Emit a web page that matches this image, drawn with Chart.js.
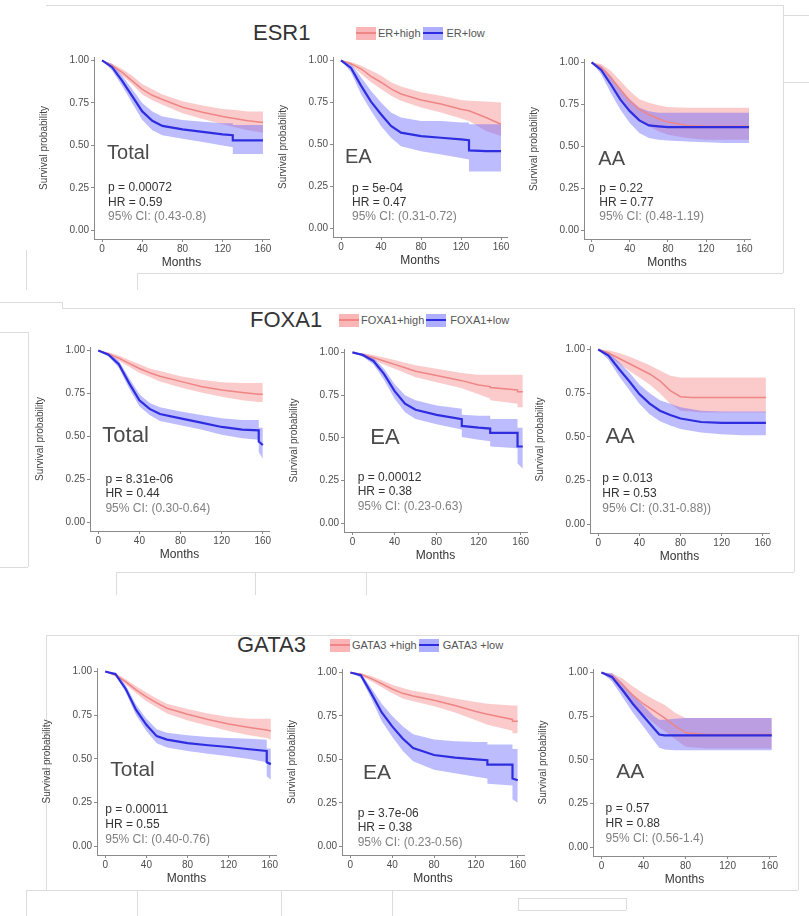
<!DOCTYPE html>
<html>
<head>
<meta charset="utf-8">
<script src="https://cdn.jsdelivr.net/npm/chart.js@4.4.0/dist/chart.umd.min.js"></script>
<style>
  body { margin: 0; background: #fff; width: 809px; height: 916px; position: relative; overflow: hidden;
         font-family: "Liberation Sans", Arial, sans-serif; }
  canvas { position: absolute; }
  .title { position: absolute; font-size: 22px; color: #333; line-height: 22px; white-space: nowrap; }
  .leg { position: absolute; font-size: 11px; color: #555; display: flex; align-items: center; height: 14px; white-space: nowrap; }
  .sw { display: inline-block; width: 20px; height: 13px; position: relative; }
  .sw i { position: absolute; left: 0; right: 0; top: 5px; height: 2px; }
  .ln { position: absolute; background: #dcdcdc; }
</style>
</head>
<body>

<script>
// ---- data ----
const xTicks = [0, 40, 80, 120, 160]
const yTicks = [0, 0.25, 0.5, 0.75, 1]
const yTickLabels = ["0.00", "0.25", "0.50", "0.75", "1.00"]

// ESR1 - Total
const esr1TotalT = [0, 10, 20, 30, 40, 50, 60, 80, 100, 120, 130, 130, 145, 160]
const esr1TotalHigh = [1.0, 0.97, 0.93, 0.88, 0.83, 0.795, 0.77, 0.725, 0.695, 0.67, 0.66, 0.66, 0.645, 0.635]
const esr1TotalHighLo = [1.0, 0.96, 0.91, 0.86, 0.80, 0.765, 0.74, 0.69, 0.655, 0.625, 0.61, 0.61, 0.59, 0.575]
const esr1TotalHighHi = [1.0, 0.98, 0.95, 0.91, 0.86, 0.83, 0.80, 0.76, 0.735, 0.715, 0.71, 0.71, 0.70, 0.70]
const esr1TotalLow = [1.0, 0.96, 0.88, 0.79, 0.70, 0.645, 0.615, 0.595, 0.58, 0.565, 0.56, 0.53, 0.53, 0.53]
const esr1TotalLowLo = [1.0, 0.94, 0.85, 0.75, 0.65, 0.59, 0.56, 0.54, 0.52, 0.50, 0.49, 0.45, 0.45, 0.45]
const esr1TotalLowHi = [1.0, 0.98, 0.91, 0.83, 0.75, 0.70, 0.67, 0.65, 0.64, 0.63, 0.63, 0.62, 0.62, 0.62]

// ESR1 - EA
const esr1EaT = [0, 10, 20, 30, 40, 50, 60, 80, 100, 120, 128, 128, 145, 160]
const esr1EaHigh = [1.0, 0.98, 0.95, 0.905, 0.87, 0.83, 0.80, 0.765, 0.74, 0.71, 0.70, 0.70, 0.66, 0.62]
const esr1EaHighLo = [1.0, 0.97, 0.92, 0.87, 0.83, 0.79, 0.76, 0.72, 0.69, 0.655, 0.64, 0.64, 0.58, 0.55]
const esr1EaHighHi = [1.0, 0.99, 0.97, 0.94, 0.91, 0.87, 0.845, 0.81, 0.79, 0.765, 0.76, 0.76, 0.755, 0.75]
const esr1EaLow = [1.0, 0.955, 0.85, 0.755, 0.68, 0.61, 0.57, 0.55, 0.54, 0.53, 0.525, 0.465, 0.46, 0.46]
const esr1EaLowLo = [1.0, 0.93, 0.80, 0.70, 0.61, 0.54, 0.49, 0.46, 0.44, 0.42, 0.41, 0.34, 0.34, 0.34]
const esr1EaLowHi = [1.0, 0.98, 0.90, 0.82, 0.75, 0.69, 0.66, 0.64, 0.64, 0.63, 0.63, 0.62, 0.62, 0.62]

// ESR1 - AA
const esr1AaT = [0, 10, 20, 30, 40, 50, 60, 70, 80, 100, 120, 140, 165]
const esr1AaHigh = [1.0, 0.97, 0.91, 0.84, 0.77, 0.72, 0.69, 0.665, 0.645, 0.625, 0.62, 0.62, 0.62]
const esr1AaHighLo = [1.0, 0.95, 0.87, 0.79, 0.72, 0.66, 0.62, 0.59, 0.57, 0.55, 0.54, 0.54, 0.54]
const esr1AaHighHi = [1.0, 0.99, 0.95, 0.89, 0.83, 0.78, 0.76, 0.745, 0.735, 0.73, 0.73, 0.73, 0.73]
const esr1AaLow = [1.0, 0.955, 0.87, 0.78, 0.71, 0.655, 0.625, 0.62, 0.615, 0.615, 0.615, 0.615, 0.615]
const esr1AaLowLo = [1.0, 0.93, 0.82, 0.72, 0.64, 0.58, 0.55, 0.54, 0.535, 0.53, 0.525, 0.52, 0.52]
const esr1AaLowHi = [1.0, 0.98, 0.92, 0.84, 0.78, 0.73, 0.71, 0.70, 0.70, 0.70, 0.70, 0.70, 0.70]

// FOXA1 - Total
const foxa1TotalT = [0, 10, 20, 30, 40, 50, 60, 80, 100, 120, 140, 156, 156, 160]
const foxa1TotalHigh = [1.0, 0.98, 0.955, 0.925, 0.895, 0.87, 0.85, 0.82, 0.79, 0.77, 0.755, 0.745, 0.745, 0.745]
const foxa1TotalHighLo = [1.0, 0.97, 0.94, 0.905, 0.87, 0.845, 0.82, 0.785, 0.755, 0.73, 0.71, 0.70, 0.70, 0.70]
const foxa1TotalHighHi = [1.0, 0.99, 0.97, 0.945, 0.92, 0.895, 0.88, 0.85, 0.83, 0.815, 0.81, 0.81, 0.81, 0.81]
const foxa1TotalLow = [1.0, 0.975, 0.92, 0.81, 0.71, 0.66, 0.63, 0.605, 0.58, 0.555, 0.54, 0.535, 0.47, 0.45]
const foxa1TotalLowLo = [1.0, 0.965, 0.90, 0.78, 0.675, 0.625, 0.59, 0.565, 0.54, 0.51, 0.49, 0.48, 0.41, 0.37]
const foxa1TotalLowHi = [1.0, 0.985, 0.94, 0.84, 0.745, 0.695, 0.67, 0.645, 0.625, 0.605, 0.595, 0.595, 0.55, 0.55]

// FOXA1 - EA
const foxa1EaT = [0, 10, 20, 30, 40, 50, 60, 80, 104, 104, 120, 131, 131, 157, 157, 162]
const foxa1EaHigh = [1.0, 0.985, 0.97, 0.95, 0.93, 0.91, 0.89, 0.865, 0.835, 0.835, 0.81, 0.80, 0.795, 0.78, 0.77, 0.77]
const foxa1EaHighLo = [1.0, 0.975, 0.955, 0.93, 0.905, 0.88, 0.855, 0.825, 0.79, 0.79, 0.755, 0.73, 0.72, 0.70, 0.68, 0.68]
const foxa1EaHighHi = [1.0, 0.995, 0.985, 0.97, 0.955, 0.94, 0.925, 0.905, 0.88, 0.88, 0.87, 0.87, 0.87, 0.87, 0.87, 0.87]
const foxa1EaLow = [1.0, 0.985, 0.95, 0.875, 0.775, 0.70, 0.665, 0.635, 0.61, 0.57, 0.56, 0.555, 0.53, 0.53, 0.45, 0.45]
const foxa1EaLowLo = [1.0, 0.975, 0.93, 0.84, 0.73, 0.65, 0.61, 0.58, 0.55, 0.505, 0.49, 0.48, 0.45, 0.44, 0.35, 0.32]
const foxa1EaLowHi = [1.0, 0.995, 0.97, 0.905, 0.815, 0.75, 0.72, 0.69, 0.67, 0.635, 0.63, 0.63, 0.61, 0.61, 0.56, 0.56]

// FOXA1 - AA
const foxa1AaT = [0, 10, 20, 30, 40, 50, 60, 70, 80, 90, 100, 120, 140, 163]
const foxa1AaHigh = [1.0, 0.98, 0.95, 0.92, 0.89, 0.86, 0.82, 0.765, 0.73, 0.725, 0.725, 0.725, 0.725, 0.725]
const foxa1AaHighLo = [1.0, 0.96, 0.92, 0.88, 0.84, 0.80, 0.75, 0.69, 0.65, 0.645, 0.64, 0.64, 0.64, 0.64]
const foxa1AaHighHi = [1.0, 0.995, 0.98, 0.96, 0.935, 0.91, 0.88, 0.85, 0.84, 0.84, 0.84, 0.84, 0.84, 0.84]
const foxa1AaLow = [1.0, 0.965, 0.89, 0.82, 0.745, 0.69, 0.65, 0.625, 0.605, 0.595, 0.585, 0.58, 0.58, 0.58]
const foxa1AaLowLo = [1.0, 0.94, 0.85, 0.77, 0.69, 0.63, 0.59, 0.565, 0.545, 0.535, 0.525, 0.515, 0.51, 0.51]
const foxa1AaLowHi = [1.0, 0.985, 0.93, 0.87, 0.80, 0.75, 0.71, 0.69, 0.67, 0.66, 0.65, 0.645, 0.645, 0.645]

// GATA3 - Total
const gata3TotalT = [0, 10, 20, 30, 40, 50, 60, 80, 100, 120, 140, 157, 157, 161]
const gata3TotalHigh = [1.0, 0.98, 0.94, 0.895, 0.855, 0.82, 0.79, 0.755, 0.725, 0.70, 0.68, 0.665, 0.665, 0.66]
const gata3TotalHighLo = [1.0, 0.97, 0.925, 0.875, 0.83, 0.795, 0.76, 0.72, 0.69, 0.66, 0.635, 0.62, 0.62, 0.61]
const gata3TotalHighHi = [1.0, 0.99, 0.955, 0.915, 0.88, 0.845, 0.815, 0.785, 0.76, 0.74, 0.73, 0.73, 0.73, 0.73]
const gata3TotalLow = [1.0, 0.985, 0.90, 0.78, 0.695, 0.63, 0.61, 0.59, 0.578, 0.568, 0.555, 0.545, 0.48, 0.47]
const gata3TotalLowLo = [1.0, 0.975, 0.88, 0.75, 0.66, 0.59, 0.565, 0.545, 0.53, 0.515, 0.50, 0.48, 0.40, 0.38]
const gata3TotalLowHi = [1.0, 0.995, 0.92, 0.81, 0.73, 0.67, 0.65, 0.635, 0.625, 0.62, 0.615, 0.61, 0.56, 0.56]

// GATA3 - EA
const gata3EaT = [0, 10, 20, 30, 40, 50, 60, 80, 100, 120, 131, 131, 155, 155, 160]
const gata3EaHigh = [1.0, 0.99, 0.965, 0.935, 0.905, 0.88, 0.865, 0.84, 0.81, 0.775, 0.76, 0.76, 0.73, 0.72, 0.72]
const gata3EaHighLo = [1.0, 0.98, 0.95, 0.915, 0.88, 0.85, 0.835, 0.805, 0.77, 0.725, 0.70, 0.70, 0.665, 0.65, 0.65]
const gata3EaHighHi = [1.0, 0.995, 0.98, 0.955, 0.93, 0.91, 0.895, 0.875, 0.85, 0.83, 0.82, 0.82, 0.81, 0.81, 0.81]
const gata3EaLow = [1.0, 0.985, 0.88, 0.77, 0.69, 0.62, 0.565, 0.525, 0.51, 0.50, 0.495, 0.47, 0.47, 0.39, 0.38]
const gata3EaLowLo = [1.0, 0.97, 0.85, 0.72, 0.63, 0.55, 0.49, 0.44, 0.42, 0.40, 0.39, 0.36, 0.35, 0.27, 0.25]
const gata3EaLowHi = [1.0, 0.995, 0.91, 0.82, 0.75, 0.69, 0.645, 0.615, 0.605, 0.60, 0.60, 0.585, 0.585, 0.56, 0.56]

// GATA3 - AA
const gata3AaT = [0, 10, 20, 30, 40, 50, 55, 60, 70, 80, 100, 120, 140, 162]
const gata3AaHigh = [1.0, 0.98, 0.93, 0.87, 0.82, 0.78, 0.76, 0.74, 0.695, 0.655, 0.645, 0.645, 0.645, 0.645]
const gata3AaHighLo = [1.0, 0.96, 0.89, 0.82, 0.76, 0.71, 0.685, 0.665, 0.62, 0.575, 0.565, 0.565, 0.565, 0.565]
const gata3AaHighHi = [1.0, 0.995, 0.965, 0.92, 0.88, 0.845, 0.83, 0.815, 0.77, 0.74, 0.74, 0.74, 0.74, 0.74]
const gata3AaLow = [1.0, 0.975, 0.90, 0.82, 0.75, 0.68, 0.645, 0.64, 0.64, 0.64, 0.64, 0.64, 0.64, 0.64]
const gata3AaLowLo = [1.0, 0.95, 0.86, 0.77, 0.69, 0.61, 0.57, 0.56, 0.555, 0.555, 0.555, 0.555, 0.555, 0.555]
const gata3AaLowHi = [1.0, 0.995, 0.94, 0.87, 0.81, 0.75, 0.73, 0.73, 0.735, 0.74, 0.74, 0.74, 0.74, 0.74]

// statistics printed in the panels
const genes = ["ESR1", "FOXA1", "GATA3"]
const legendHigh = ["ER+high", "FOXA1+high", "GATA3 +high"]
const legendLow = ["ER+low", "FOXA1+low", "GATA3 +low"]
const groups = ["Total", "EA", "AA"]
const pTexts = ["p = 0.00072", "p = 5e-04", "p = 0.22",
                "p = 8.31e-06", "p = 0.00012", "p = 0.013",
                "p = 0.00011", "p = 3.7e-06", "p = 0.57"]
const hrTexts = ["HR = 0.59", "HR = 0.47", "HR = 0.77",
                 "HR = 0.44", "HR = 0.38", "HR = 0.53",
                 "HR = 0.55", "HR = 0.38", "HR = 0.88"]
const ciTexts = ["95% CI: (0.43-0.8)", "95% CI: (0.31-0.72)", "95% CI: (0.48-1.19)",
                 "95% CI: (0.30-0.64)", "95% CI: (0.23-0.63)", "95% CI: (0.31-0.88))",
                 "95% CI: (0.40-0.76)", "95% CI: (0.23-0.56)", "95% CI: (0.56-1.4)"]
</script>

<script>
const RED = "#ef8585"
const RED_BAND = "rgba(245, 110, 110, 0.36)"
const BLUE = "#2e2ee0"
const BLUE_BAND = "rgba(95, 95, 255, 0.42)"
const FONT = '"Liberation Sans", Arial, sans-serif'

const X_MIN = -8, X_MAX = 166, Y_MIN = -0.05, Y_MAX = 1.02
const Y_W = 56, X_H = 32, PAD_T = 6, PAD_R = 10

// where month 0 / month 160 and 1.00 / 0.00 sit on the page, per panel
const panelGeo = [
  { x0: 102, x160: 263, y1: 58, y0: 230 },
  { x0: 341, x160: 501, y1: 58, y0: 228 },
  { x0: 592, x160: 745, y1: 60, y0: 230 },
  { x0: 98, x160: 263, y1: 348, y0: 522 },
  { x0: 352, x160: 520, y1: 350, y0: 523 },
  { x0: 598, x160: 763, y1: 348, y0: 525 },
  { x0: 105, x160: 270, y1: 670, y0: 847 },
  { x0: 350, x160: 517, y1: 671, y0: 847 },
  { x0: 601, x160: 769, y1: 671, y0: 848 },
]

// text spots in data units [month, probability]
const notePos = [
  { label: [5, 0.45], stat: [6, 0.25], size: 20 },
  { label: [4, 0.42], stat: [11, 0.24], size: 20 },
  { label: [7, 0.42], stat: [8, 0.25], size: 20 },
  { label: [4, 0.50], stat: [7, 0.25], size: 22 },
  { label: [17, 0.50], stat: [5, 0.27], size: 22 },
  { label: [7, 0.50], stat: [4, 0.26], size: 22 },
  { label: [5, 0.435], stat: [0, 0.21], size: 21 },
  { label: [12, 0.42], stat: [7, 0.19], size: 21 },
  { label: [14, 0.43], stat: [4, 0.22], size: 21 },
]

const panelData = [
  [esr1TotalT, esr1TotalHigh, esr1TotalHighLo, esr1TotalHighHi, esr1TotalLow, esr1TotalLowLo, esr1TotalLowHi],
  [esr1EaT, esr1EaHigh, esr1EaHighLo, esr1EaHighHi, esr1EaLow, esr1EaLowLo, esr1EaLowHi],
  [esr1AaT, esr1AaHigh, esr1AaHighLo, esr1AaHighHi, esr1AaLow, esr1AaLowLo, esr1AaLowHi],
  [foxa1TotalT, foxa1TotalHigh, foxa1TotalHighLo, foxa1TotalHighHi, foxa1TotalLow, foxa1TotalLowLo, foxa1TotalLowHi],
  [foxa1EaT, foxa1EaHigh, foxa1EaHighLo, foxa1EaHighHi, foxa1EaLow, foxa1EaLowLo, foxa1EaLowHi],
  [foxa1AaT, foxa1AaHigh, foxa1AaHighLo, foxa1AaHighHi, foxa1AaLow, foxa1AaLowLo, foxa1AaLowHi],
  [gata3TotalT, gata3TotalHigh, gata3TotalHighLo, gata3TotalHighHi, gata3TotalLow, gata3TotalLowLo, gata3TotalLowHi],
  [gata3EaT, gata3EaHigh, gata3EaHighLo, gata3EaHighHi, gata3EaLow, gata3EaLowLo, gata3EaLowHi],
  [gata3AaT, gata3AaHigh, gata3AaHighLo, gata3AaHighHi, gata3AaLow, gata3AaLowLo, gata3AaLowHi],
]

function series(t, v) {
  return t.map((m, i) => ({ x: m, y: v[i] }))
}

function bandLine(data, fill, color, order) {
  return { data, fill, backgroundColor: color, borderColor: "rgba(0,0,0,0)", borderWidth: 0, pointRadius: 0, order }
}

// draws group label and the p / HR / CI lines inside the plot
function notesPlugin(i) {
  return {
    id: "notes" + i,
    afterDatasetsDraw(chart) {
      const { ctx } = chart
      const x = chart.scales.x, y = chart.scales.y
      const pos = notePos[i]
      const step = 0.085
      ctx.save()
      ctx.textBaseline = "middle"
      ctx.textAlign = "left"
      ctx.fillStyle = "#4a4a4a"
      ctx.font = pos.size + "px " + FONT
      ctx.fillText(groups[i % 3], x.getPixelForValue(pos.label[0]), y.getPixelForValue(pos.label[1]))
      ctx.font = "12px " + FONT
      const sx = x.getPixelForValue(pos.stat[0])
      ctx.fillStyle = "#333"
      ctx.fillText(pTexts[i], sx, y.getPixelForValue(pos.stat[1]))
      ctx.fillText(hrTexts[i], sx, y.getPixelForValue(pos.stat[1] - step))
      ctx.fillStyle = "#808080"
      ctx.fillText(ciTexts[i], sx, y.getPixelForValue(pos.stat[1] - 2 * step))
      ctx.restore()
    }
  }
}

function makePanel(i) {
  const g = panelGeo[i]
  const pxpm = (g.x160 - g.x0) / 160
  const pyu = g.y0 - g.y1
  const areaLeft = g.x0 + X_MIN * pxpm
  const areaW = (X_MAX - X_MIN) * pxpm
  const areaTop = g.y1 - (Y_MAX - 1) * pyu
  const areaH = (Y_MAX - Y_MIN) * pyu

  const canvas = document.createElement("canvas")
  canvas.width = Math.round(Y_W + areaW + PAD_R)
  canvas.height = Math.round(PAD_T + areaH + X_H)
  canvas.style.left = Math.round(areaLeft - Y_W) + "px"
  canvas.style.top = Math.round(areaTop - PAD_T) + "px"
  document.body.appendChild(canvas)

  const [t, high, highLo, highHi, low, lowLo, lowHi] = panelData[i]

  new Chart(canvas, {
    type: "line",
    data: {
      datasets: [
        bandLine(series(t, highLo), false, "rgba(0,0,0,0)", 5),
        bandLine(series(t, highHi), "-1", RED_BAND, 4),
        bandLine(series(t, lowLo), false, "rgba(0,0,0,0)", 3),
        bandLine(series(t, lowHi), "-1", BLUE_BAND, 2),
        { data: series(t, high), borderColor: RED, borderWidth: 1.5, pointRadius: 0, fill: false, order: 1 },
        { data: series(t, low), borderColor: BLUE, borderWidth: 2.2, pointRadius: 0, fill: false, order: 0 },
      ]
    },
    options: {
      responsive: false,
      animation: false,
      devicePixelRatio: 1,
      events: [],
      layout: { padding: { top: PAD_T, right: PAD_R, left: 0, bottom: 0 } },
      plugins: { legend: { display: false }, tooltip: { enabled: false } },
      scales: {
        x: {
          type: "linear", min: X_MIN, max: X_MAX,
          afterBuildTicks: s => { s.ticks = xTicks.map(v => ({ value: v })) },
          afterFit: s => { s.height = X_H },
          ticks: { font: { size: 10, family: FONT }, color: "#4d4d4d", maxRotation: 0, padding: 1 },
          grid: { display: true, drawOnChartArea: false, drawTicks: true, tickLength: 3, color: "#8a8a8a" },
          border: { display: true, color: "#8a8a8a", width: 1 },
          title: { display: true, text: "Months", color: "#333", font: { size: 12, family: FONT }, padding: { top: 0, bottom: 1 } }
        },
        y: {
          min: Y_MIN, max: Y_MAX,
          afterBuildTicks: s => { s.ticks = yTicks.map(v => ({ value: v })) },
          afterFit: s => { s.width = Y_W },
          ticks: {
            font: { size: 10, family: FONT }, color: "#4d4d4d", padding: 2,
            callback: v => yTickLabels[yTicks.indexOf(v)]
          },
          grid: { display: true, drawOnChartArea: false, drawTicks: true, tickLength: 3, color: "#8a8a8a" },
          border: { display: true, color: "#8a8a8a", width: 1 },
          title: { display: true, text: "Survival probability", color: "#444", font: { size: 10, family: FONT }, padding: { top: 0, bottom: 4 } }
        }
      }
    },
    plugins: [notesPlugin(i)]
  })
}

// row titles with legend keys
const titlePos = [
  { left: 253, cy: 33, leg: 356 },
  { left: 250, cy: 320, leg: 339 },
  { left: 237, cy: 645, leg: 330 },
]

function swatch(band, line) {
  return '<span class="sw" style="background:' + band + '"><i style="background:' + line + '"></i></span>'
}

titlePos.forEach((p, r) => {
  const t = document.createElement("div")
  t.className = "title"
  t.textContent = genes[r]
  t.style.left = p.left + "px"
  t.style.top = (p.cy - 11) + "px"
  document.body.appendChild(t)

  const l = document.createElement("div")
  l.className = "leg"
  l.style.left = p.leg + "px"
  l.style.top = (p.cy - 7) + "px"
  l.innerHTML = swatch("rgba(245,110,110,0.5)", RED) + '<span style="margin:0 2px">' + legendHigh[r] + "</span>" +
                swatch("rgba(95,95,255,0.5)", BLUE) + '<span style="margin-left:4px">' + legendLow[r] + "</span>"
  document.body.appendChild(l)
})

// faint frame remnants around the rows
const frameLines = [
  [46, 5, 737, 1], [783, 5, 1, 268], [137, 273, 646, 1], [137, 273, 1, 17], [26, 250, 1, 40],
  [783, 15, 26, 1], [783, 82, 26, 1],
  [0, 302, 62, 1], [62, 302, 1, 6], [62, 308, 732, 1], [794, 308, 1, 264], [0, 332, 28, 1],
  [28, 332, 1, 235], [0, 567, 28, 1], [116, 572, 678, 1], [116, 572, 1, 23], [255, 572, 1, 23], [366, 572, 1, 23],
  [46, 635, 752, 1], [46, 635, 1, 255], [798, 635, 1, 255], [26, 890, 772, 1], [26, 890, 1, 26],
  [137, 890, 1, 26], [281, 890, 1, 26], [392, 890, 1, 26],
  [518, 898, 108, 1], [518, 910, 108, 1], [518, 898, 1, 12], [626, 898, 1, 12],
]
frameLines.forEach(([x, y, w, h]) => {
  const d = document.createElement("div")
  d.className = "ln"
  d.style.cssText = "left:" + x + "px;top:" + y + "px;width:" + w + "px;height:" + h + "px"
  document.body.appendChild(d)
})

for (let i = 0; i < 9; i++) makePanel(i)
</script>
</body>
</html>
